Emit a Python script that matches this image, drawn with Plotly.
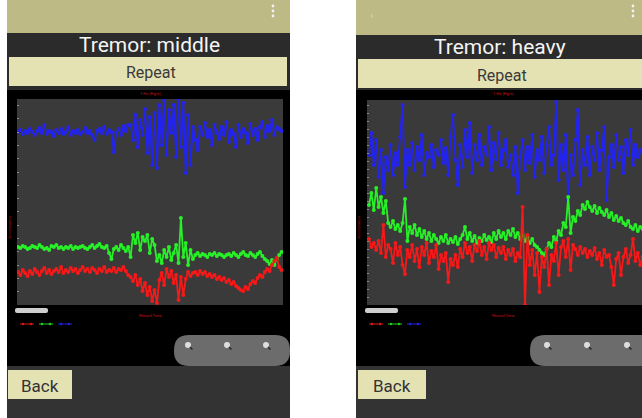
import plotly.graph_objects as go

# ---------------- data (sensor readings, arbitrary units) ----------------
mid_blue = [173,175,171,174,172,176,173,170,174,177,172,180,171,174,173,169,175,172,176,171,173,178,170,174,172,175,171,173,177,172,174,170,165,174,176,172,178,171,175,173,153,172,176,170,179,174,180,
            180,165,190,158,185,170,196,152,188,140,192,137,200,160,205,150,195,172,200,148,206,158,202,132,190,140,178,
            165,155,178,170,182,168,175,160,180,172,166,178,170,183,163,175,171,158,180,168,176,172,162,181,170,176,165,178,183,168,179,174,185,170,178,176,174]
mid_green = [58,57,59,58,56,57,59,58,57,60,58,56,57,55,59,58,60,57,58,56,58,57,59,56,58,57,58,59,57,56,58,60,57,59,61,58,57,59,52,46,56,58,55,60,57,54,58,
             48,70,62,72,55,68,64,70,52,66,60,44,50,42,55,48,58,45,52,60,42,87,48,62,40,55,46,
             50,52,49,51,50,48,51,50,52,49,51,50,48,50,51,49,52,50,48,51,53,50,49,52,50,48,51,53,49,46,44,41,45,40,46,50,53]
mid_red = [33,30,35,32,29,34,31,36,33,30,34,37,32,35,31,34,36,33,38,32,35,33,37,34,36,32,35,38,34,36,33,37,35,32,36,34,38,33,35,34,37,33,36,35,38,34,30,
           28,24,30,20,26,14,22,10,18,4,15,2,25,32,20,36,28,34,22,30,5,28,10,26,33,29,32,
           33,30,34,31,33,29,31,28,30,26,28,25,27,23,25,21,23,19,17,15,14,18,16,21,24,22,27,30,28,33,36,34,40,44,47,38,35]

heavy_blue = [150,172,140,165,128,155,112,148,135,160,130,152,140,168,200,118,155,140,162,135,158,145,170,130,152,148,160,138,155,150,
              165,142,157,130,168,190,145,120,160,138,175,148,182,132,160,145,170,140,158,150,178,135,162,146,172,140,155,165,138,150,
              130,158,112,148,165,135,158,142,170,128,155,145,168,132,160,178,140,150,203,125,160,135,170,105,150,130,165,195,120,155,
              140,168,130,158,145,172,135,155,178,105,148,160,138,170,145,158,132,165,150,175,140,160,148,155,150]
heavy_green = [100,112,95,117,98,108,92,104,82,78,84,76,80,74,82,106,64,78,72,80,70,76,68,74,66,72,64,70,66,62,
               68,64,70,62,66,63,68,61,66,70,78,66,72,64,69,62,67,64,70,65,68,63,72,66,74,68,72,66,74,70,
               76,68,72,66,70,64,68,62,66,60,58,55,52,50,56,62,58,68,64,74,70,82,78,108,72,88,84,94,90,100,
               96,103,98,94,99,92,97,93,90,95,88,92,85,89,84,87,82,80,84,78,76,80,74,78,76]
heavy_red = [66,58,62,55,64,52,80,48,60,56,42,62,50,58,40,31,55,48,60,44,56,38,58,50,62,42,54,48,60,36,
             50,44,52,23,46,40,50,38,56,48,62,52,58,44,60,54,64,50,58,46,62,55,60,48,57,52,58,46,55,50,
             56,44,52,48,98,0,70,40,55,30,52,13,48,38,56,20,50,44,62,30,58,64,48,66,35,60,56,50,58,52,
             56,48,54,50,57,46,52,40,55,48,50,38,20,46,52,30,48,56,42,50,66,44,52,40,48]

titles = ["Tremor: middle", "Tremor: heavy"]
button_top = "Repeat"
button_back = "Back"
chart_title = "1-Hz (Hg/s)"
x_label = "Record Time"
y_label = "Acceleration"

# ---------------- helpers ----------------
W, H = 642, 418
def PX(x): return x / W
def PY(y): return 1 - y / H

shapes = []
annotations = []

def rect(x0, y0, x1, y1, color):
    shapes.append(dict(type="rect", xref="paper", yref="paper", layer="below",
                       x0=PX(x0), x1=PX(x1), y0=PY(y1), y1=PY(y0),
                       fillcolor=color, line=dict(width=0)))

def rrect(x0, y0, x1, y1, r, color):
    X, Y = PX, PY
    p = (f"M {X(x0+r)},{Y(y0)} L {X(x1-r)},{Y(y0)} Q {X(x1)},{Y(y0)} {X(x1)},{Y(y0+r)} "
         f"L {X(x1)},{Y(y1-r)} Q {X(x1)},{Y(y1)} {X(x1-r)},{Y(y1)} L {X(x0+r)},{Y(y1)} "
         f"Q {X(x0)},{Y(y1)} {X(x0)},{Y(y1-r)} L {X(x0)},{Y(y0+r)} Q {X(x0)},{Y(y0)} {X(x0+r)},{Y(y0)} Z")
    shapes.append(dict(type="path", xref="paper", yref="paper", layer="below", path=p,
                       fillcolor=color, line=dict(width=0)))

def circ(cx, cy, r, color):
    shapes.append(dict(type="circle", xref="paper", yref="paper", layer="below",
                       x0=PX(cx-r), x1=PX(cx+r), y0=PY(cy+r), y1=PY(cy-r),
                       fillcolor=color, line=dict(width=0)))

def seg(x0, y0, x1, y1, color, w=1):
    shapes.append(dict(type="line", xref="paper", yref="paper", layer="below",
                       x0=PX(x0), x1=PX(x1), y0=PY(y0), y1=PY(y1),
                       line=dict(color=color, width=w)))

def text(x, y, s, size, color, angle=0):
    annotations.append(dict(x=PX(x), y=PY(y), xref="paper", yref="paper", text=s,
                            showarrow=False, xanchor="center", yanchor="middle", textangle=angle,
                            font=dict(family="Roboto", size=size, color=color)))

OLIVE = "#bdba86"
DARK = "#2b2b2b"
BTN = "#e4e1b3"
PLOT = "#3a3a3a"

def phone(x0, x1, dy, title, tx, plot_x0, plot_x1, plot_y0, zc_x0, icons, back):
    right_panel = x1 >= 640
    rect(x0, 0, x1, 33 + dy, OLIVE)
    rect(x0, 33 + dy, x1, 90, DARK)
    rect(x0 + 2, 57 + dy, x1 if right_panel else x1 - 3, 86 + dy, BTN)
    rect(x0, 90, x1, 366, "#000000")
    rect(plot_x0, plot_y0, plot_x1, 305, PLOT)
    rect(x0, 366, x1, H, "#333333")
    for yy in (6, 11, 16):
        circ(633 if right_panel else x1 - 17, yy, 1.4, "#f2f2f2")
    text(tx, 45 + dy, title, 21, "#f4f4f4")
    text(tx + 2, 73 + dy, button_top, 16, "#3a3a3a")
    cx = 503 if right_panel else (plot_x0 + plot_x1) / 2
    text(cx, 94, chart_title, 4, "#d01010")
    text(cx, 315, x_label, 4, "#d01010")
    text(x0 + 2.5, 228, y_label, 4, "#b01010", angle=-90)
    rrect(plot_x0 - 2, 308, plot_x0 + 31, 313, 2, "#cfcfcf")
    for i, c in enumerate(["#e01818", "#20d020", "#2020e0"]):
        lx = x0 + 13 + i * 19
        seg(lx, 324, lx + 14, 324, c, 1)
        circ(lx + 3, 324, 1.2, c)
        circ(lx + 11, 324, 1.2, c)
    rrect(zc_x0, 335, 680 if right_panel else zc_x0 + 116, 366, 15, "#6c6c6c")
    for ix in icons:
        circ(ix, 345, 3, "#dedede")
        seg(ix + 2, 347, ix + 4.5, 349.5, "#2a2a2a", 1.5)
    rect(back[0], 370, back[1], 399, BTN)
    text((back[0] + back[1]) / 2, 386, button_back, 17, "#333333")

phone(7, 290, 0, titles[0], 149, 17, 283, 99, 174, [188, 227, 266], (8, 72))
phone(356, 642, 2, titles[1], 500, 367, 642, 100, 530, [547, 587, 627], (358, 426))
text(371, 16, "‹", 11, "rgba(255,255,255,0.45)")

# ---------------- figure ----------------
fig = go.Figure()
colors = {"blue": "rgb(35,35,240)", "green": "rgb(40,240,40)", "red": "rgb(245,25,25)"}

def add(series, color, xa, ya):
    fig.add_trace(go.Scatter(x=list(range(len(series))), y=series, mode="lines+markers",
                             line=dict(color=color, width=1.8), marker=dict(color=color, size=4),
                             xaxis=xa, yaxis=ya, showlegend=False, hoverinfo="skip"))

add(mid_blue, colors["blue"], "x", "y")
add(mid_green, colors["green"], "x", "y")
add(mid_red, colors["red"], "x", "y")
add(heavy_blue, colors["blue"], "x2", "y2")
add(heavy_green, colors["green"], "x2", "y2")
add(heavy_red, colors["red"], "x2", "y2")

ax_common = dict(showgrid=False, zeroline=False, showticklabels=False, showline=False)
fig.update_layout(
    width=W, height=H, margin=dict(l=0, r=0, t=0, b=0),
    paper_bgcolor="white", plot_bgcolor="rgba(0,0,0,0)", hovermode=False,
    xaxis=dict(domain=[PX(17), PX(283)], range=[-0.4, 110.6], **ax_common),
    yaxis=dict(domain=[PY(305), PY(99)], range=[0, 206], ticks="inside", ticklen=2,
               tickcolor="#8a8a8a", dtick=13.3, tick0=0, **ax_common),
    xaxis2=dict(domain=[PX(367), 1], range=[-0.83, 113.75], anchor="y2", **ax_common),
    yaxis2=dict(domain=[PY(305), PY(100)], range=[0, 205], anchor="x2", ticks="inside", ticklen=2,
                tickcolor="#8a8a8a", dtick=8, tick0=0, **ax_common),
    shapes=shapes, annotations=annotations,
)
fig.write_html("out.html", config={"displayModeBar": False, "staticPlot": True},
               post_script="document.body.style.margin='0px';document.body.style.overflow='hidden';")
